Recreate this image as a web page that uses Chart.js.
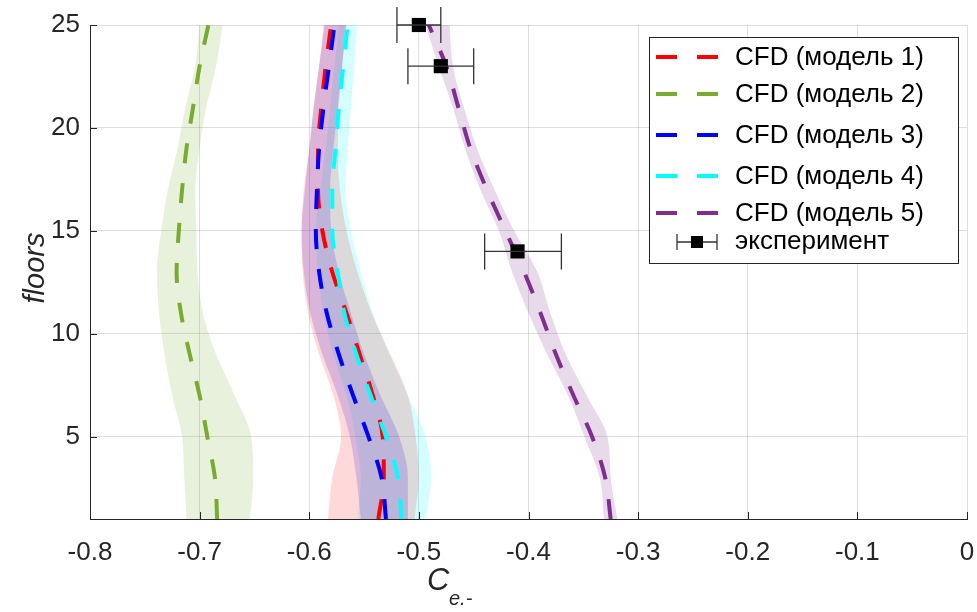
<!DOCTYPE html>
<html>
<head>
<meta charset="utf-8">
<script src="https://cdn.jsdelivr.net/npm/chart.js@4/dist/chart.umd.min.js"></script>
<style>
  body { margin: 0; background: #fff; }
  #wrap { width: 977px; height: 612px; }
</style>
</head>
<body>
<div id="wrap"><canvas id="cp"></canvas></div>
<script>
// этажи (ось y)
const floors = [1, 3, 5, 7, 9, 11, 13, 15, 17, 19, 21, 23, 25];

// CFD модель 1
const model1   = [-0.537, -0.532, -0.533, -0.542, -0.554, -0.566, -0.579, -0.588, -0.592, -0.592, -0.589, -0.585, -0.580];
const model1Lo = [-0.583, -0.579, -0.571, -0.578, -0.591, -0.601, -0.606, -0.607, -0.605, -0.600, -0.596, -0.591, -0.587];
const model1Hi = [-0.504, -0.500, -0.503, -0.510, -0.526, -0.543, -0.556, -0.566, -0.572, -0.574, -0.573, -0.570, -0.567];
// CFD модель 2
const model2   = [-0.684, -0.686, -0.693, -0.700, -0.709, -0.717, -0.721, -0.719, -0.716, -0.712, -0.706, -0.700, -0.692];
const model2Lo = [-0.712, -0.714, -0.716, -0.725, -0.732, -0.737, -0.739, -0.735, -0.729, -0.720, -0.713, -0.704, -0.700];
const model2Hi = [-0.654, -0.651, -0.653, -0.668, -0.685, -0.697, -0.702, -0.703, -0.704, -0.700, -0.694, -0.685, -0.679];
// CFD модель 3
const model3   = [-0.530, -0.534, -0.546, -0.560, -0.573, -0.584, -0.591, -0.594, -0.593, -0.591, -0.587, -0.582, -0.577];
const model3Lo = [-0.553, -0.557, -0.563, -0.574, -0.588, -0.599, -0.605, -0.607, -0.604, -0.600, -0.596, -0.591, -0.586];
const model3Hi = [-0.510, -0.510, -0.518, -0.535, -0.550, -0.562, -0.573, -0.580, -0.581, -0.578, -0.574, -0.570, -0.566];
// CFD модель 4
const model4   = [-0.516, -0.519, -0.530, -0.544, -0.557, -0.568, -0.574, -0.579, -0.579, -0.576, -0.573, -0.569, -0.565];
const model4Lo = [-0.556, -0.553, -0.558, -0.566, -0.578, -0.587, -0.592, -0.594, -0.590, -0.585, -0.581, -0.577, -0.573];
const model4Hi = [-0.494, -0.489, -0.494, -0.510, -0.527, -0.542, -0.553, -0.562, -0.567, -0.565, -0.562, -0.559, -0.556];
// CFD модель 5
const model5   = [-0.325, -0.330, -0.342, -0.359, -0.375, -0.389, -0.404, -0.421, -0.438, -0.453, -0.464, -0.475, -0.491];
const model5Lo = [-0.331, -0.335, -0.349, -0.364, -0.383, -0.400, -0.415, -0.427, -0.444, -0.458, -0.469, -0.482, -0.494];
const model5Hi = [-0.319, -0.325, -0.328, -0.347, -0.366, -0.380, -0.392, -0.413, -0.431, -0.447, -0.459, -0.469, -0.472];

// эксперимент
const expFloors = [25, 23, 14];
const expValues = [-0.50, -0.48, -0.41];
const expLo = [-0.52, -0.51, -0.44];
const expHi = [-0.48, -0.45, -0.37];

const seriesNames = ['CFD (модель 1)', 'CFD (модель 2)', 'CFD (модель 3)', 'CFD (модель 4)', 'CFD (модель 5)', 'эксперимент'];
const xTickValues = [-0.8, -0.7, -0.6, -0.5, -0.4, -0.3, -0.2, -0.1, 0];
const yTickValues = [5, 10, 15, 20, 25];

const lines = [model1, model2, model3, model4, model5];
const lows = [model1Lo, model2Lo, model3Lo, model4Lo, model5Lo];
const highs = [model1Hi, model2Hi, model3Hi, model4Hi, model5Hi];
const colors = ['#ff0000', '#77ac30', '#0000ff', '#00ffff', '#7e2f8e'];
const bandColors = ['rgba(255,0,0,0.15)', 'rgba(119,172,48,0.17)', 'rgba(0,0,255,0.17)', 'rgba(0,255,255,0.17)', 'rgba(126,47,142,0.18)'];

const FONT = '"Liberation Sans", Arial, sans-serif';
const toPts = arr => arr.map((v, i) => ({x: v, y: floors[i]}));

const datasets = [];
lines.forEach((vals, k) => {
    datasets.push({
        label: seriesNames[k] + ' lo', data: toPts(lows[k]),
        borderWidth: 0, pointRadius: 0, fill: false, order: 3
    });
    datasets.push({
        label: seriesNames[k] + ' hi', data: toPts(highs[k]),
        borderWidth: 0, pointRadius: 0, fill: '-1', backgroundColor: bandColors[k], order: 3
    });
});
lines.forEach((vals, k) => {
    datasets.push({
        label: seriesNames[k], data: toPts(vals),
        borderColor: colors[k], borderWidth: 4, borderDash: [20, 20],
        pointRadius: 0, fill: false, order: 2 - k * 0.1
    });
});
datasets.push({
    label: seriesNames[5],
    data: expValues.map((v, i) => ({x: v, y: expFloors[i]})),
    showLine: false, pointStyle: 'rect', pointRadius: 10,
    backgroundColor: '#000', borderWidth: 0, order: 0, clip: false
});

//Декор: усы, внутренние риски, легенда, подписи осей
const decor = {
    id: 'decor',
    afterDatasetsDraw(chart) {
        const {ctx, scales: {x, y}} = chart;
        ctx.save();
        ctx.strokeStyle = '#333';
        ctx.lineWidth = 1.3;
        expValues.forEach((v, i) => {
            const py = y.getPixelForValue(expFloors[i]);
            const x0 = x.getPixelForValue(expLo[i]);
            const x1 = x.getPixelForValue(expHi[i]);
            ctx.beginPath();
            ctx.moveTo(x0, py); ctx.lineTo(x1, py);
            ctx.moveTo(x0, py - 18); ctx.lineTo(x0, py + 18);
            ctx.moveTo(x1, py - 18); ctx.lineTo(x1, py + 18);
            ctx.stroke();
        });
        ctx.restore();
    },
    afterDraw(chart) {
        const {ctx, chartArea: a, scales: {x, y}} = chart;
        ctx.save();
        ctx.strokeStyle = '#262626';
        ctx.lineWidth = 1;
        ctx.beginPath();
        xTickValues.forEach(v => {
            const px = Math.round(x.getPixelForValue(v)) + 0.5;
            ctx.moveTo(px, a.bottom); ctx.lineTo(px, a.bottom - 7);
        });
        yTickValues.forEach(v => {
            const py = Math.round(y.getPixelForValue(v)) + 0.5;
            ctx.moveTo(a.left, py); ctx.lineTo(a.left + 7, py);
        });
        ctx.stroke();

        //легенда
        const bx = 649, by = 37, bw = 309, bh = 226;
        ctx.fillStyle = '#fff';
        ctx.fillRect(bx, by, bw, bh);
        ctx.strokeStyle = '#262626';
        ctx.strokeRect(bx + 0.5, by + 0.5, bw, bh);
        const rows = [57, 94, 135, 176, 213, 242];
        ctx.font = '26px ' + FONT;
        ctx.textBaseline = 'middle';
        ctx.textAlign = 'left';
        for (let k = 0; k < 5; k++) {
            ctx.strokeStyle = colors[k];
            ctx.lineWidth = 4;
            ctx.setLineDash([21, 20]);
            ctx.beginPath();
            ctx.moveTo(656, rows[k]); ctx.lineTo(718, rows[k]);
            ctx.stroke();
            ctx.setLineDash([]);
            ctx.fillStyle = '#000';
            ctx.fillText(seriesNames[k], 735, rows[k] + 1);
        }
        const ry = rows[5];
        ctx.strokeStyle = '#333';
        ctx.lineWidth = 1.3;
        ctx.beginPath();
        ctx.moveTo(677, ry); ctx.lineTo(717, ry);
        ctx.moveTo(677, ry - 8); ctx.lineTo(677, ry + 8);
        ctx.moveTo(717, ry - 8); ctx.lineTo(717, ry + 8);
        ctx.stroke();
        ctx.fillStyle = '#000';
        ctx.fillRect(691, ry - 6, 12, 12);
        ctx.fillText(seriesNames[5], 735, ry);

        //подписи осей
        ctx.fillStyle = '#262626';
        ctx.save();
        ctx.translate(36, 268);
        ctx.rotate(-Math.PI / 2);
        ctx.textAlign = 'center';
        ctx.font = 'italic 29px ' + FONT;
        ctx.fillText('floors', 0, 0);
        ctx.restore();
        ctx.textAlign = 'left';
        ctx.font = 'italic 31px ' + FONT;
        ctx.fillText('C', 427, 581);
        ctx.font = 'italic 20px ' + FONT;
        ctx.fillText('e.-', 449, 599);
        ctx.restore();
    }
};

new Chart(document.getElementById('cp'), {
    type: 'line',
    data: { datasets },
    options: {
        indexAxis: 'y',
        responsive: true,
        maintainAspectRatio: false,
        animation: false,
        layout: { padding: { top: 25, right: 8, left: 0, bottom: 0 } },
        elements: { line: { cubicInterpolationMode: 'monotone' } },
        plugins: { legend: { display: false }, tooltip: { enabled: false } },
        scales: {
            x: {
                type: 'linear', min: -0.8, max: 0,
                afterBuildTicks: s => { s.ticks = xTickValues.map(v => ({value: v})); },
                afterFit: s => { s.height = 93; s.paddingLeft = 0; s.paddingRight = 0; },
                grid: { color: 'rgba(0,0,0,0.13)', drawTicks: false },
                border: { color: '#262626', width: 1 },
                ticks: {
                    padding: 18, color: '#262626', font: { family: FONT, size: 26 },
                    callback: v => String(Math.round(v * 10) / 10)
                }
            },
            y: {
                type: 'linear', min: 1, max: 25,
                afterBuildTicks: s => { s.ticks = yTickValues.map(v => ({value: v})); },
                afterFit: s => { s.width = 90; s.paddingTop = 0; s.paddingBottom = 0; },
                grid: { color: 'rgba(0,0,0,0.13)', drawTicks: false },
                border: { color: '#262626', width: 1 },
                ticks: { padding: 10, color: '#262626', font: { family: FONT, size: 26 } }
            }
        }
    },
    plugins: [decor]
});
</script>
</body>
</html>
